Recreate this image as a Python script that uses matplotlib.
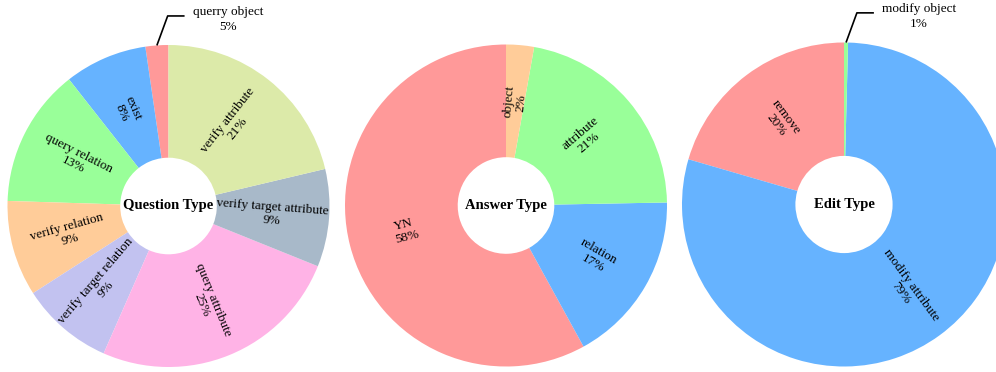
import numpy as np
import matplotlib
matplotlib.use("Agg")
import matplotlib.pyplot as plt

plt.rcParams['font.family'] = ['Liberation Serif', 'DejaVu Serif']

# Question type (counter-clockwise from the top)
question_names = ["querry object", "exist", "query relation", "verify relation",
                  "verify target relation", "query attribute",
                  "verify target attribute", "verify attribute"]
question_sizes = [2.3, 8.3, 13.9, 9.6, 9.3, 25.5, 9.8, 21.3]
question_pcts = ["5%", "8%", "13%", "9%", "9%", "25%", "9%", "21%"]
question_colors = ['#ff9999', '#66b3ff', '#99ff99', '#ffcc99', '#c2c2f0',
                   '#ffb3e6', '#a8b9c9', '#dceaa9']

# Answer type
answer_names = ["YN", "relation", "attribute", "object"]
answer_sizes = [58.0, 17.3, 21.9, 2.8]
answer_pcts = ["58%", "17%", "21%", "2%"]
answer_colors = ['#ff9999', '#66b3ff', '#99ff99', '#ffcc99']

# Edit type
edit_names = ["remove", "modify attribute", "modify object"]
edit_sizes = [20.5, 79.1, 0.4]
edit_pcts = ["20%", "79%", "1%"]
edit_colors = ['#ff9999', '#66b3ff', '#99ff99']

FS = 9.5


def donut(ax, sizes, names, pcts, colors, title, outside=()):
    wedges, _ = ax.pie(sizes, colors=colors, startangle=90, counterclock=True,
                       radius=1.0, wedgeprops=dict(width=0.7, linewidth=0))
    for w, name, pct in zip(wedges, names, pcts):
        ang = (w.theta1 + w.theta2) / 2.0
        rad = np.deg2rad(ang)
        if name in outside:
            # leader line from the thin slice to the label
            px, py = np.cos(rad), np.sin(rad)
            ex, ey = px + 0.067, py + 0.183
            hx = ex + 0.105
            ax.plot([px, ex, hx], [py, ey, ey], color='black', lw=1.2,
                    clip_on=False, solid_capstyle='butt')
            ax.text(hx + 0.05, ey - 0.02, f"{name}\n{pct}", ha='left', va='center',
                    multialignment='center', fontsize=FS, clip_on=False,
                    linespacing=1.35)
            continue
        r = 0.645
        rot = ang % 360
        if 90 < rot < 270:
            rot -= 180
        ax.text(r * np.cos(rad), r * np.sin(rad), f"{name}\n{pct}",
                ha='center', va='center', rotation=rot, rotation_mode='anchor',
                multialignment='center', fontsize=FS, linespacing=1.1)
    ax.text(0, 0, title, ha='center', va='center', fontsize=10.5,
            fontweight='bold')
    ax.set_xlim(-1, 1)
    ax.set_ylim(-1, 1)
    ax.set_aspect('equal')
    ax.axis('off')


fig = plt.figure(figsize=(9.96, 3.72), dpi=100)
W, H = 996.0, 372.0


def place(cx, cy, r):
    return fig.add_axes([(cx - r) / W, (H - cy - r) / H, 2 * r / W, 2 * r / H])


ax1 = place(168.5, 206, 161)
ax2 = place(506, 205.5, 161)
ax3 = place(844, 204.5, 162)

donut(ax1, question_sizes, question_names, question_pcts, question_colors,
      "Question Type", outside=("querry object",))
donut(ax2, answer_sizes, answer_names, answer_pcts, answer_colors, "Answer Type")
donut(ax3, edit_sizes, edit_names, edit_pcts, edit_colors, "Edit Type",
      outside=("modify object",))

fig.savefig("out.png", dpi=100)
